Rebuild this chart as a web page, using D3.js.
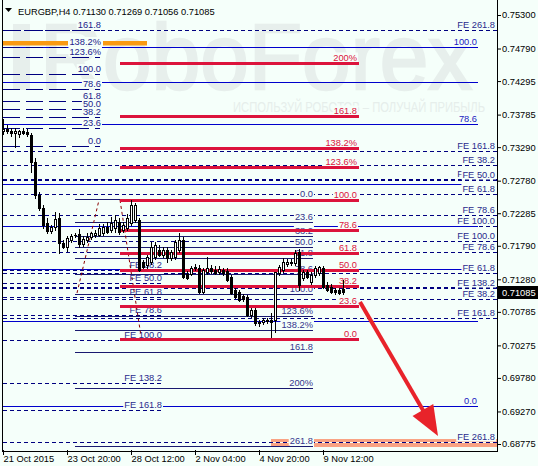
<!DOCTYPE html>
<html><head><meta charset="utf-8">
<script src="https://cdn.jsdelivr.net/npm/d3@7"></script>
<style>
html,body{margin:0;padding:0;background:#f5fffa;}
svg{display:block;font-family:"Liberation Sans",Arial,sans-serif;}
</style></head>
<body><svg id="chart" width="538" height="466"></svg>
<script>
// ---------------- DATA ----------------
const symbolTitle = "EURGBP,H4";
const titleValues = ["0.71130", "0.71269", "0.71056", "0.71085"];
const currentPrice = 0.71085;

const xTickLabels = ["21 Oct 2015", "23 Oct 20:00", "28 Oct 12:00", "2 Nov 04:00", "4 Nov 20:00", "9 Nov 12:00"];
const xTickBars = [0, 16, 32, 48, 64, 80];
const yTickLabels = ["0.75300","0.74790","0.74295","0.73785","0.73290","0.72780","0.72285","0.71790","0.71280","0.70785","0.70275","0.69780","0.69270","0.68775"];

const opens = [
0.7354,0.7357,0.7354,0.7351,0.7349,0.7354,0.7352,0.7348,0.7306,0.7256,
0.7236,0.7214,0.7202,0.7208,0.7221,0.7183,0.7177,0.7188,0.7195,0.7197,
0.7182,0.7188,0.7192,0.7196,0.7195,0.7198,0.7208,0.7203,0.7206,0.7215,
0.7203,0.7206,0.7214,0.7218,0.7218,0.7154,0.7150,0.7154,0.7162,0.7173,
0.7165,0.7173,0.7160,0.7162,0.7173,0.7188,0.7136,0.7136,0.7145,0.7145,
0.7109,0.7139,0.7145,0.7142,0.7139,0.7142,0.7141,0.7131,0.7112,0.7109,
0.7103,0.7101,0.7074,0.7081,0.7061,0.7063,0.7064,0.7066,0.7066,0.7138,
0.7142,0.7151,0.7153,0.7153,0.7169,0.7130,0.7139,0.7124,0.7135,0.7138,
0.7145,0.7119,0.7116,0.7112,0.7112,0.71130];
const highs = [
0.7372,0.7363,0.7358,0.7358,0.7355,0.7358,0.7357,0.7351,0.7313,0.7261,
0.7241,0.7221,0.7211,0.7230,0.7229,0.7188,0.7194,0.7197,0.7198,0.7205,
0.7194,0.7198,0.7200,0.7203,0.7212,0.7212,0.7215,0.7223,0.7226,0.7221,
0.7215,0.7227,0.7249,0.7244,0.7221,0.7157,0.7165,0.7185,0.7185,0.7180,
0.7177,0.7177,0.7173,0.7188,0.7198,0.7192,0.7141,0.7148,0.7151,0.7150,
0.7145,0.7162,0.7150,0.7148,0.7148,0.7145,0.7145,0.7134,0.7115,0.7112,
0.7106,0.7104,0.7084,0.7084,0.7066,0.7069,0.7069,0.7077,0.7139,0.7150,
0.7160,0.7159,0.7159,0.7173,0.7174,0.7142,0.7142,0.7139,0.7148,0.7148,
0.7148,0.7124,0.7121,0.7115,0.7115,0.71269];
const lows = [
0.7349,0.7351,0.7346,0.7329,0.7344,0.7349,0.7346,0.7291,0.7252,0.7233,
0.7206,0.7198,0.7198,0.7203,0.7168,0.7176,0.7171,0.7185,0.7192,0.7177,
0.7179,0.7185,0.7189,0.7193,0.7194,0.7195,0.7198,0.7200,0.7200,0.7197,
0.7200,0.7203,0.7211,0.7215,0.7141,0.7145,0.7145,0.7151,0.7159,0.7164,
0.7162,0.7154,0.7157,0.7159,0.7170,0.7130,0.7129,0.7134,0.7142,0.7107,
0.7107,0.7136,0.7138,0.7136,0.7136,0.7134,0.7126,0.7106,0.7100,0.7095,
0.7095,0.7072,0.7071,0.7058,0.7057,0.7060,0.7061,0.7040,0.7048,0.7134,
0.7139,0.7148,0.7150,0.7150,0.7112,0.7127,0.7130,0.7121,0.7132,0.7135,
0.7115,0.7110,0.7107,0.7106,0.7106,0.71056];
const closes = [
0.7357,0.7354,0.7351,0.7354,0.7354,0.7351,0.7349,0.7306,0.7256,0.7236,
0.7211,0.7202,0.7208,0.7220,0.7183,0.7177,0.7191,0.7194,0.7196,0.7182,
0.7189,0.7192,0.7198,0.7199,0.7206,0.7208,0.7200,0.7214,0.7218,0.7200,
0.7211,0.7221,0.7241,0.7241,0.7142,0.7147,0.7162,0.7177,0.7180,0.7165,
0.7173,0.7160,0.7170,0.7185,0.7188,0.7132,0.7130,0.7145,0.7147,0.7109,
0.7142,0.7145,0.7141,0.7138,0.7144,0.7138,0.7127,0.7107,0.7101,0.7097,
0.7098,0.7074,0.7081,0.7061,0.7063,0.7066,0.7066,0.7063,0.7139,0.7147,
0.7154,0.7154,0.7154,0.7168,0.7119,0.7139,0.7132,0.7135,0.7145,0.7147,
0.7116,0.7112,0.7109,0.7109,0.7107,0.71085];

// Fibonacci retracement (left, dashed)
const fibA_labels = ["161.8","138.2%","123.6%","100.0","78.6","61.8","50.0","38.2","23.6","0.0"];
const fibA_prices = [0.75072,0.74813,0.74661,0.74402,0.74174,0.73992,0.73870,0.73748,0.73581,0.73307];
const fibA_bars = [0, 24.25];

// Fibonacci retracement (wide, blue solid)
const fibB_labels = ["100.0","","78.6","","","","","0.0"];
const fibB_prices = [0.74813,0.74281,0.73642,0.72729,0.72091,0.71436,0.70646,0.69353];
const fibB_bars = [0, 118.75];

// Fibonacci expansions (dashed)
const fe1_labels = ["FE 261.8","FE 161.8","FE 138.2","FE 100.0","FE 78.6","FE 61.8","FE 50.0","FE 38.2"];
const fe1_prices = [0.75072,0.73231,0.72805,0.72091,0.71695,0.71376,0.71163,0.70980];
const fe2_labels = ["FE 38.2","FE 50.0","FE 61.8","FE 78.6","FE 100.0","FE 138.2","FE 161.8","FE 261.8"];
const fe2_prices = [0.73018,0.72790,0.72577,0.72258,0.71862,0.71148,0.70691,0.68805];
const feWide_bars = [0, 123.5];
const fe3_labels = ["FE 38.2","FE 50.0","FE 61.8","FE 78.6","FE 100.0","FE 138.2","FE 161.8"];
const fe3_prices = [0.71421,0.71224,0.71011,0.70737,0.70357,0.69703,0.69292];
const fe3_bars = [0, 39.75];

// Fibonacci retracement (middle, navy solid)
const fibD_labels = ["0.0","23.6","38.2","50.0","61.8","78.6","100.0","123.6%","138.2%","161.8","200%","261.8"];
const fibD_prices = [0.72501,0.72151,0.71938,0.71771,0.71604,0.71368,0.71056,0.70722,0.70509,0.70174,0.69627,0.68744];
const fibD_bars = [18, 77.5];

// Fibonacci retracement (red, thick)
const fibC_labels = ["200%","161.8","138.2%","123.6%","100.0","78.6","61.8","50.0","38.2","23.6","0.0"];
const fibC_prices = [0.74575,0.73764,0.73277,0.72985,0.72486,0.72034,0.71680,0.71429,0.71180,0.70871,0.70372];
const fibC_bars = [29.25, 89];

// highlighted zones
const orangeZone = {price: 0.74874, segments: [[0, 16.25], [25, 36]]};
const salmonZone = {price: 0.68790, segments: [[67, 71.75], [77.75, 123.5]]};

// wave (dotted) lines: [bar1, price1, bar2, price2]
const waveLines = [[18.5, 0.71071, 24, 0.72486], [29.25, 0.72486, 34.5, 0.70418]];
// forecast arrow
const arrowFrom = [89.25, 0.70935];
const arrowTo = [108.75, 0.68897];

// ---------------- DRAW ----------------
const BG = "#f5fffa";
const svg = d3.select("#chart");
const W = 538, H = 466;
const FONT = 9.3;

const x = d3.scaleLinear().domain([0, 123]).range([3, 495]);
const y = d3.scaleLinear().domain([0.68775, 0.753]).range([444, 15]);
const ry = p => Math.round(y(p)) + 0.5;

svg.append("rect").attr("width", W).attr("height", H).attr("fill", BG);

// watermark
const WM = "#e7efec";
svg.append("rect").attr("x", 13).attr("y", 24).attr("width", 17).attr("height", 66).attr("fill", WM);
svg.append("text").attr("x", 40).attr("y", 89)
  .attr("font-size", 92).attr("fill", WM).attr("stroke", WM).attr("stroke-width", 2.5)
  .attr("textLength", 432).attr("lengthAdjust", "spacingAndGlyphs")
  .text("RoboForex");
svg.append("text").attr("x", 233).attr("y", 112)
  .attr("font-size", 14).attr("fill", "#e6eeeb")
  .attr("textLength", 252).attr("lengthAdjust", "spacingAndGlyphs")
  .text("ИСПОЛЬЗУЙ РОБОТОВ – ПОЛУЧАЙ ПРИБЫЛЬ");

const gl = svg.append("g");

function hlines(prices, bars, color, width, dash, underlay) {
  prices.forEach(p => {
    const yy = width % 2 === 0 ? Math.round(y(p)) : ry(p);
    if (underlay) {
      gl.append("line").attr("x1", x(bars[0])).attr("x2", x(bars[1]))
        .attr("y1", yy).attr("y2", yy).attr("stroke", BG).attr("stroke-width", width);
    }
    gl.append("line").attr("x1", x(bars[0])).attr("x2", x(bars[1]))
      .attr("y1", yy).attr("y2", yy).attr("stroke", color).attr("stroke-width", width)
      .attr("stroke-dasharray", dash || null);
  });
}
function hlabels(labels, prices, bars, color, dxEnd, lift) {
  labels.forEach((t, i) => {
    if (!t) return;
    const bx = x(bars[1]) + dxEnd, by = ry(prices[i]) - (lift || 2.5);
    const g = gl.append("g");
    const r = g.append("rect").attr("fill", BG);
    const tx = g.append("text").attr("x", bx).attr("y", by)
      .attr("text-anchor", "end").attr("font-size", FONT).attr("fill", color).text(t);
    const len = tx.node().getComputedTextLength();
    r.attr("x", bx - len - 1).attr("width", len + 2).attr("y", by - 8).attr("height", 9.5);
  });
}

// salmon zone (below dashed lines)
salmonZone.segments.forEach(s => {
  gl.append("rect").attr("x", x(s[0])).attr("width", x(s[1]) - x(s[0]))
    .attr("y", y(salmonZone.price) - 4).attr("height", 8).attr("fill", "#f9a283");
});

// FE dashed lines + blue fib lines
hlines(fe1_prices, feWide_bars, "#000080", 1, "4,3", true);
hlines(fe2_prices, feWide_bars, "#000080", 1, "4,3", true);
hlines(fe3_prices, fe3_bars, "#000080", 1, "4,3", true);
hlines(fibB_prices, fibB_bars, "#0000cc", 1, null, false);
hlabels(fibB_labels, fibB_prices, fibB_bars, "#1a1ac0", -1);
hlabels(fe1_labels, fe1_prices, feWide_bars, "#2a2a8c", -2);
hlabels(fe2_labels, fe2_prices, feWide_bars, "#2a2a8c", -2);
hlabels(fe3_labels, fe3_prices, fe3_bars, "#2a2a8c", 0);

// fib A dashed
hlines(fibA_prices, fibA_bars, "#000080", 1, "17,6", false);
// orange zone
orangeZone.segments.forEach(s => {
  gl.append("rect").attr("x", x(s[0])).attr("width", x(s[1]) - x(s[0]))
    .attr("y", y(orangeZone.price) - 2).attr("height", 4.5).attr("fill", "#f99a12");
});
hlabels(fibA_labels, fibA_prices, fibA_bars, "#22228a", 1);

// fib D navy solid
hlines(fibD_prices, fibD_bars, "#191970", 1, null, false);
hlabels(fibD_labels, fibD_prices, fibD_bars, "#34348c", 0);

// wave dotted lines
waveLines.forEach(w => {
  gl.append("line").attr("x1", x(w[0])).attr("y1", y(w[1])).attr("x2", x(w[2])).attr("y2", y(w[3]))
    .attr("stroke", "#8b0000").attr("stroke-width", 1).attr("stroke-dasharray", "3,3");
});

// fib C red thick
hlines(fibC_prices, fibC_bars, "#dc143c", 3, null, false);
hlabels(fibC_labels, fibC_prices, fibC_bars, "#dc143c", -2, 3);

// arrow
(function(){
  const x1 = x(arrowFrom[0]), y1 = y(arrowFrom[1]), x2 = x(arrowTo[0]), y2 = y(arrowTo[1]);
  const dx = x2 - x1, dy = y2 - y1, L = Math.hypot(dx, dy), ux = dx / L, uy = dy / L;
  const hl = 30, hw = 12;
  const bx = x2 - ux * hl, by = y2 - uy * hl;
  gl.append("line").attr("x1", x1).attr("y1", y1).attr("x2", bx + ux * 2).attr("y2", by + uy * 2)
    .attr("stroke", "#e8232a").attr("stroke-width", 4);
  gl.append("path").attr("d", `M${x2},${y2}L${bx - uy * hw},${by + ux * hw}L${bx + uy * hw},${by - ux * hw}Z`)
    .attr("fill", "#e8232a");
})();

// candles
const gc = svg.append("g");
opens.forEach((o, i) => {
  const c = closes[i];
  const cx = Math.round(x(i)) + 0.5;
  gc.append("line").attr("x1", cx).attr("x2", cx)
    .attr("y1", Math.round(y(highs[i]))).attr("y2", Math.round(y(lows[i])) + 1)
    .attr("stroke", "#000").attr("stroke-width", 1);
  const yo = Math.round(y(o)), yc = Math.round(y(c));
  if (c < o) {
    gc.append("rect").attr("x", cx - 1.5).attr("width", 3)
      .attr("y", yo).attr("height", Math.max(1, yc - yo + 1)).attr("fill", "#000");
  } else if (yc === yo) {
    gc.append("rect").attr("x", cx - 1.5).attr("width", 3).attr("y", yo).attr("height", 1).attr("fill", "#000");
  } else {
    gc.append("rect").attr("x", cx - 1).attr("width", 2)
      .attr("y", yc + 0.5).attr("height", yo - yc).attr("fill", "#fff")
      .attr("stroke", "#000").attr("stroke-width", 1);
  }
});

// frame
svg.append("line").attr("x1", 2.5).attr("x2", 2.5).attr("y1", 0).attr("y2", 452).attr("stroke", "#000");
svg.append("line").attr("x1", 497.5).attr("x2", 497.5).attr("y1", 0).attr("y2", 452).attr("stroke", "#000");
svg.append("line").attr("x1", 2).attr("x2", 498).attr("y1", 451.5).attr("y2", 451.5).attr("stroke", "#000");

// right axis
const yAxis = d3.axisRight(y).tickValues(yTickLabels.map(Number))
  .tickFormat((d, i) => yTickLabels[i]).tickSize(4).tickPadding(1);
svg.append("g").attr("transform", "translate(497,0)").call(yAxis)
  .call(g => g.select(".domain").remove())
  .call(g => g.selectAll("line").attr("stroke", "#000"))
  .call(g => g.selectAll("text").attr("font-size", FONT).attr("fill", "#000")
    .attr("font-family", "'Liberation Sans',Arial,sans-serif"));

// current price tag
const cpY = ry(currentPrice);
svg.append("rect").attr("x", 498).attr("y", cpY - 6.5).attr("width", 40).attr("height", 13).attr("fill", "#000");
svg.append("text").attr("x", 502).attr("y", cpY).attr("dy", "0.35em").attr("font-size", FONT)
  .attr("fill", "#fff").text(d3.format(".5f")(currentPrice));

// bottom axis
const xAxis = d3.axisBottom(x).tickValues(xTickBars).tickFormat((d, i) => xTickLabels[i]).tickSize(5);
svg.append("g").attr("transform", "translate(0,450)").call(xAxis)
  .call(g => g.select(".domain").remove())
  .call(g => g.selectAll("line").attr("stroke", "#000"))
  .call(g => g.selectAll("text").attr("font-size", FONT).attr("fill", "#000")
    .attr("text-anchor", "start").attr("y", 5).attr("dy", "0.71em")
    .attr("font-family", "'Liberation Sans',Arial,sans-serif"));

// title
svg.append("path").attr("d", "M5,8L12,8L8.5,12Z").attr("fill", "#000");
svg.append("text").attr("x", 18).attr("y", 15).attr("font-size", FONT).attr("fill", "#000")
  .text(symbolTitle + " " + titleValues.join(" "));
</script>
</body></html>
